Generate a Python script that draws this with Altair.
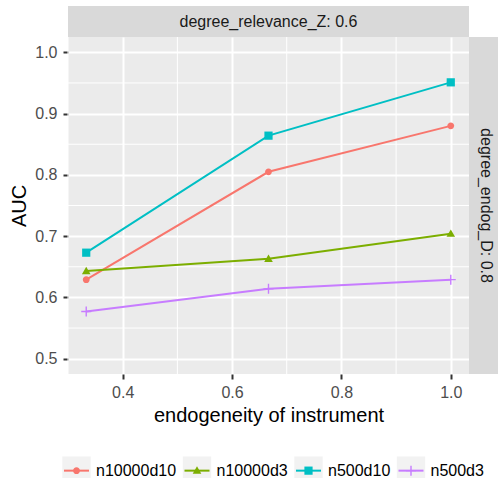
import math
import altair as alt
import pandas as pd

# ---------------- data ----------------
x_values = [1 / 3, 2 / 3, 1.0]
series_names = ["n10000d10", "n10000d3", "n500d10", "n500d3"]
auc_n10000d10 = [0.629, 0.805, 0.880]
auc_n10000d3 = [0.643, 0.663, 0.704]
auc_n500d10 = [0.673, 0.864, 0.951]
auc_n500d3 = [0.577, 0.614, 0.629]

x_ticks = [0.4, 0.6, 0.8, 1.0]
y_ticks = [0.5, 0.6, 0.7, 0.8, 0.9, 1.0]
x_minor = [0.3, 0.5, 0.7, 0.9]
y_minor = [0.55, 0.65, 0.75, 0.85, 0.95]

column_strip = ["degree_relevance_Z: 0.6"]
row_strip = ["degree_endog_D: 0.8"]
x_title = "endogeneity of instrument"
y_title = "AUC"

series_colors = ["#F8766D", "#7CAE00", "#00BFC4", "#C77CFF"]

rows = []
for name, vals in zip(series_names, [auc_n10000d10, auc_n10000d3, auc_n500d10, auc_n500d3]):
    for xv, yv in zip(x_values, vals):
        rows.append({"series": name, "x": xv, "auc": yv})
df = pd.DataFrame(rows)

# ---------------- layout / style ----------------
W, H = 401, 337
PAD = {"left": 68, "top": 37, "right": 29, "bottom": 104}
FONT = "Liberation Sans"
STRIP = 31

SYM = 806
K = math.sqrt(SYM) / 2  # px per path unit


def u(px):
    return f"{px / K:.4f}"


EXT = "M-1,-1M1,1"


def circle(r):
    return (f"M{u(r)},0A{u(r)},{u(r)},0,1,1,{u(-r)},0"
            f"A{u(r)},{u(r)},0,1,1,{u(r)},0Z")


def rect(x0, y0, x1, y1):
    return f"M{u(x0)},{u(y0)}H{u(x1)}V{u(y1)}H{u(x0)}Z"


def triangle(hw, top, bot):
    return f"M0,{u(-top)}L{u(hw)},{u(bot)}L{u(-hw)},{u(bot)}Z"


def plus(a, t):
    return (f"M{u(-t)},{u(-a)}H{u(t)}V{u(-t)}H{u(a)}V{u(t)}H{u(t)}V{u(a)}"
            f"H{u(-t)}V{u(t)}H{u(-a)}V{u(-t)}H{u(-t)}Z")


shape_paths = [
    EXT + circle(3.4),
    EXT + triangle(4.3, 4.3, 3.1),
    EXT + rect(-4.1, -4.1, 4.1, 4.1),
    EXT + plus(5.0, 0.7),
]
legend_line_path = EXT + f"M{u(-12.5)},0H{u(12.5)}"


def leg(z, **kw):
    return alt.Legend(
        orient="none", legendX=-7, legendY=418, direction="horizontal",
        title=None, symbolSize=SYM, symbolStrokeWidth=2,
        labelFont=FONT, labelFontSize=16, labelColor="black",
        labelOffset=4, columnPadding=1.5, padding=0, zindex=z, **kw)


xs = alt.Scale(domain=[0.3, 1 + 1 / 30], nice=False, zero=False)
ys = alt.Scale(domain=[0.475, 1.025], nice=False, zero=False)

common_axis = dict(
    grid=True, gridColor="white", gridWidth=2, domain=False,
    tickColor="#333333", tickWidth=2, tickSize=5,
    labelFont=FONT, labelFontSize=16, labelColor="#4D4D4D",
    titleFont=FONT, titleFontSize=20, titleColor="black",
    titleFontWeight="normal", labelOverlap=False, labelFlush=False,
    format=".1f",
)
x_axis = alt.Axis(values=x_ticks, title=x_title, labelPadding=5,
                  titleBaseline="alphabetic", titleY=47.5, **common_axis)
y_axis = alt.Axis(values=y_ticks, title=y_title, labelPadding=6,
                  titleBaseline="alphabetic", titleX=-43, titleY=H / 2,
                  **common_axis)

X = alt.X("x:Q", scale=xs, axis=x_axis)
Y = alt.Y("auc:Q", scale=ys, axis=y_axis)

minor_x_layer = alt.Chart(pd.DataFrame({"x": x_minor})).mark_rule(
    color="white", strokeWidth=1).encode(x=X)
minor_y_layer = alt.Chart(pd.DataFrame({"auc": y_minor})).mark_rule(
    color="white", strokeWidth=1).encode(y=Y)

base = alt.Chart(df)

key_layer = base.transform_calculate(series_key="datum.series").mark_square(
    size=0, opacity=1).encode(
    x=X, y=Y,
    fill=alt.Fill("series_key:N", scale=alt.Scale(range=["#F2F2F2"] * 4),
                  legend=leg(1, symbolType="square", symbolStrokeColor="transparent")),
)

line_layer = base.transform_calculate(series_line="datum.series").mark_line(
    strokeWidth=2).encode(
    x=X, y=Y,
    stroke=alt.Stroke("series_line:N", scale=alt.Scale(range=series_colors),
                      legend=leg(2, symbolType=legend_line_path, labelOpacity=0)),
)

point_legend = leg(3, symbolStrokeColor="transparent", labelOpacity=0)
point_layer = base.mark_point(filled=True, size=SYM, opacity=1).encode(
    x=X, y=Y,
    color=alt.Color("series:N", scale=alt.Scale(domain=series_names, range=series_colors),
                    legend=point_legend),
    shape=alt.Shape("series:N", scale=alt.Scale(domain=series_names, range=shape_paths),
                    legend=point_legend),
)

top_strip_bg = alt.Chart(pd.DataFrame({"label": column_strip})).mark_rect(
    color="#D9D9D9").encode(
    x=alt.value(0), x2=alt.value(W), y=alt.value(-STRIP), y2=alt.value(0))
top_strip_text = alt.Chart(pd.DataFrame({"label": column_strip})).mark_text(
    font=FONT, fontSize=16, color="#1A1A1A", baseline="middle", align="center").encode(
    x=alt.value(W / 2), y=alt.value(-STRIP / 2), text="label:N")

right_strip_bg = alt.Chart(pd.DataFrame({"label": row_strip})).mark_rect(
    color="#D9D9D9").encode(
    x=alt.value(W), x2=alt.value(W + STRIP), y=alt.value(0), y2=alt.value(H))
right_strip_text = alt.Chart(pd.DataFrame({"label": row_strip})).mark_text(
    font=FONT, fontSize=16, color="#1A1A1A", baseline="middle", align="center",
    angle=90).encode(
    x=alt.value(W + 17), y=alt.value(H / 2), text="label:N")

chart = alt.layer(
    minor_x_layer, minor_y_layer, key_layer, line_layer, point_layer,
    top_strip_bg, top_strip_text, right_strip_bg, right_strip_text,
).properties(
    width=W, height=H,
    autosize=alt.AutoSizeParams(type="none"),
    padding=PAD,
    background="white",
).configure_view(fill="#EBEBEB", strokeWidth=0)

chart.save("out.html", embed_options={"renderer": "svg", "actions": False})
